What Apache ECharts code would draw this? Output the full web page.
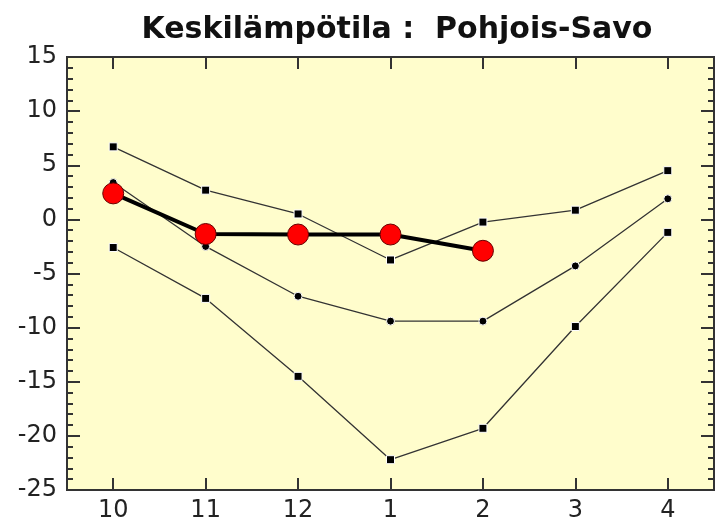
<!DOCTYPE html>
<html><head><meta charset="utf-8">
<script src="https://cdn.jsdelivr.net/npm/echarts@6/dist/echarts.min.js"></script>
<style>
html,body{margin:0;padding:0;background:#fff}
#wrap{position:relative;width:715px;height:525px}
#plotbg{position:absolute;left:67px;top:57px;width:647px;height:433px;background:#FFFDCC;z-index:0}
#c{position:absolute;left:0;top:0;width:715px;height:525px;z-index:1}
</style>
</head><body><div id="wrap"><div id="plotbg"></div><div id="c"></div></div>
<script>
var categories = ['10','11','12','1','2','3','4'];
var maxSeries = [6.7, 2.7, 0.5, -3.75, -0.25, 0.85, 4.5];
var meanSeries = [3.4, -2.5, -7.1, -9.4, -9.4, -4.3, 1.9];
var minSeries = [-2.6, -7.3, -14.5, -22.2, -19.3, -9.9, -1.2];
var currentSeries = [2.4, -1.35, -1.4, -1.4, -2.9];
var yTicks = [-25, -20, -15, -10, -5, 0, 5, 10, 15];

var chart = echarts.init(document.getElementById('c'), null, {renderer:'canvas'});
function thin(data, sym, xi, yi){
  return {type:'line', data:data, symbol:sym, symbolSize:8, z:3,
    xAxisIndex:xi, yAxisIndex:yi,
    lineStyle:{color:'#333', width:1.3},
    itemStyle:{color:'#000', borderColor:'#fff', borderWidth:1},
    animation:false};
}
var axisCol = '#333';
var font = 'DejaVu Sans';
var blank = function(){ return ''; };
function rightAxis(off, major, minor){
  return {type:'value', min:-25, max:15, interval:5, position:'right', z:4, show:true, offset:off,
    axisLine:{show:false, onZero:false},
    axisTick:{show:major>0, inside:false, length:major||1, lineStyle:{color:axisCol, width:2}},
    minorTick:{show:minor>0, splitNumber:5, length:minor||1, lineStyle:{color:axisCol, width:2}},
    axisLabel:{show:true, formatter:blank}, splitLine:{show:false}};
}
chart.setOption({
  animation:false,
  backgroundColor:'transparent',
  title:{text:'Keskilämpötila :  Pohjois-Savo', left:392, top:10, textAlign:'center',
    textStyle:{fontFamily:font, fontSize:30, fontWeight:'bold', color:'#111'}},
  grid:{left:67, right:1, top:57, bottom:35, show:true, z:0, outerBoundsMode:'none', containLabel:false,
    backgroundColor:'transparent', borderColor:axisCol, borderWidth:2},
  xAxis:[{type:'category', data:categories, boundaryGap:true, position:'bottom', z:4,
    axisLine:{show:true, onZero:false, lineStyle:{color:axisCol, width:2}},
    axisTick:{show:true, inside:true, alignWithLabel:true, length:12, lineStyle:{color:axisCol, width:2}},
    axisLabel:{fontFamily:font, fontSize:24, color:'#222', margin:9},
    splitLine:{show:false}},
   {type:'category', data:categories, boundaryGap:true, position:'top', z:4, show:true, offset:-12,
    axisLine:{show:false, onZero:false},
    axisTick:{show:true, inside:false, alignWithLabel:true, interval:0, length:12, lineStyle:{color:axisCol, width:2}},
    axisLabel:{show:true, interval:0, formatter:blank}, splitLine:{show:false}}],
  yAxis:[{type:'value', min:-25, max:15, interval:5, position:'left', z:4,
    axisLine:{show:true, onZero:false, lineStyle:{color:axisCol, width:2}},
    axisTick:{show:true, inside:true, length:13, lineStyle:{color:axisCol, width:2}},
    minorTick:{show:true, splitNumber:5, length:6, lineStyle:{color:axisCol, width:2}},
    axisLabel:{fontFamily:font, fontSize:24, color:'#222', margin:10,
      formatter:function(v){return yTicks.indexOf(v)>=0 ? String(v) : '';}},
    splitLine:{show:false}},
   rightAxis(-13, 13, 0),
   rightAxis(-6, 0, 6)],
  series:[
    thin(maxSeries,'rect',1,1),
    thin(meanSeries,'circle',0,0),
    thin(minSeries,'rect',0,2),
    {type:'line', data:currentSeries, symbol:'circle', symbolSize:21, z:5,
     lineStyle:{color:'#000', width:4},
     itemStyle:{color:'#ff0000', borderColor:'#600', borderWidth:1}}
  ]
});
</script></body></html>
